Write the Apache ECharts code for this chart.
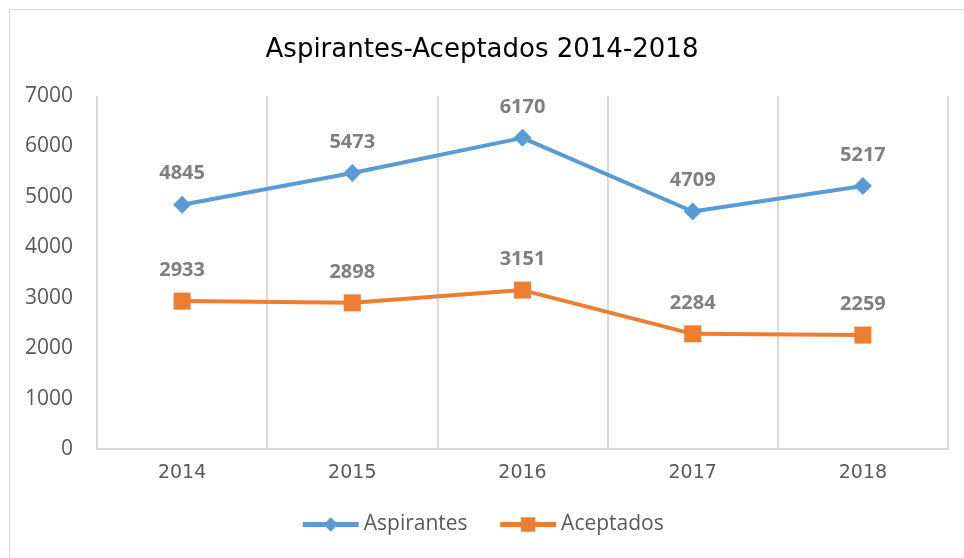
<!DOCTYPE html>
<html><head><meta charset="utf-8">
<script src="https://cdn.jsdelivr.net/npm/echarts@6/dist/echarts.min.js"></script>
<style>html,body{margin:0;padding:0;background:#fff}#c{width:964px;height:558px}</style>
</head><body><div id="c"></div>
<script>
const categories = ['2014', '2015', '2016', '2017', '2018'];
const aspirantes = [4845, 5473, 6170, 4709, 5217];
const aceptados = [2933, 2898, 3151, 2284, 2259];
const yTicks = [0, 1000, 2000, 3000, 4000, 5000, 6000, 7000];

const chart = echarts.init(document.getElementById('c'));
const labelStyle = { show: true, position: 'top', distance: 12, color: '#7f7f7f', fontSize: 20, fontWeight: 'bold', fontFamily: 'Open Sans' };
chart.setOption({
  animation: false,
  graphic: [{ type: 'rect', shape: { x: 9.5, y: 9.5, width: 970, height: 570 }, style: { fill: 'none', stroke: '#d9d9d9', lineWidth: 1 } }],
  title: { text: 'Aspirantes-Aceptados 2014-2018', left: 'center', top: 32, textStyle: { fontFamily: 'DejaVu Sans', fontWeight: 'normal', fontSize: 26, color: '#000' } },
  grid: { left: 97, right: 16, top: 96, bottom: 109 },
  legend: { bottom: 18, left: 'center', itemWidth: 56, itemHeight: 18, itemGap: 30,
    lineStyle: { width: 5 },
    textStyle: { fontFamily: 'Open Sans', fontSize: 21, color: '#595959' }, data: ['Aspirantes', 'Aceptados'] },
  xAxis: { type: 'category', data: categories, boundaryGap: true,
    axisLine: { lineStyle: { color: '#d9d9d9', width: 2 } }, axisTick: { show: false },
    splitLine: { show: true, lineStyle: { color: '#d9d9d9', width: 2 } },
    axisLabel: { color: '#595959', fontSize: 19, fontFamily: 'DejaVu Sans', margin: 15 } },
  yAxis: { type: 'value', min: yTicks[0], max: yTicks[yTicks.length - 1], interval: 1000,
    axisLine: { show: false }, axisTick: { show: false }, splitLine: { show: false },
    axisLabel: { color: '#595959', fontSize: 21, fontFamily: 'Open Sans', margin: 24, formatter: v => String(v) } },
  series: [
    { name: 'Aspirantes', type: 'line', data: aspirantes, symbol: 'diamond', symbolSize: 18,
      lineStyle: { color: '#5b9bd5', width: 4 }, itemStyle: { color: '#5b9bd5' }, label: labelStyle },
    { name: 'Aceptados', type: 'line', data: aceptados, symbol: 'rect', symbolSize: 17,
      lineStyle: { color: '#ed7d31', width: 4 }, itemStyle: { color: '#ed7d31' }, label: labelStyle }
  ]
});
</script></body></html>
